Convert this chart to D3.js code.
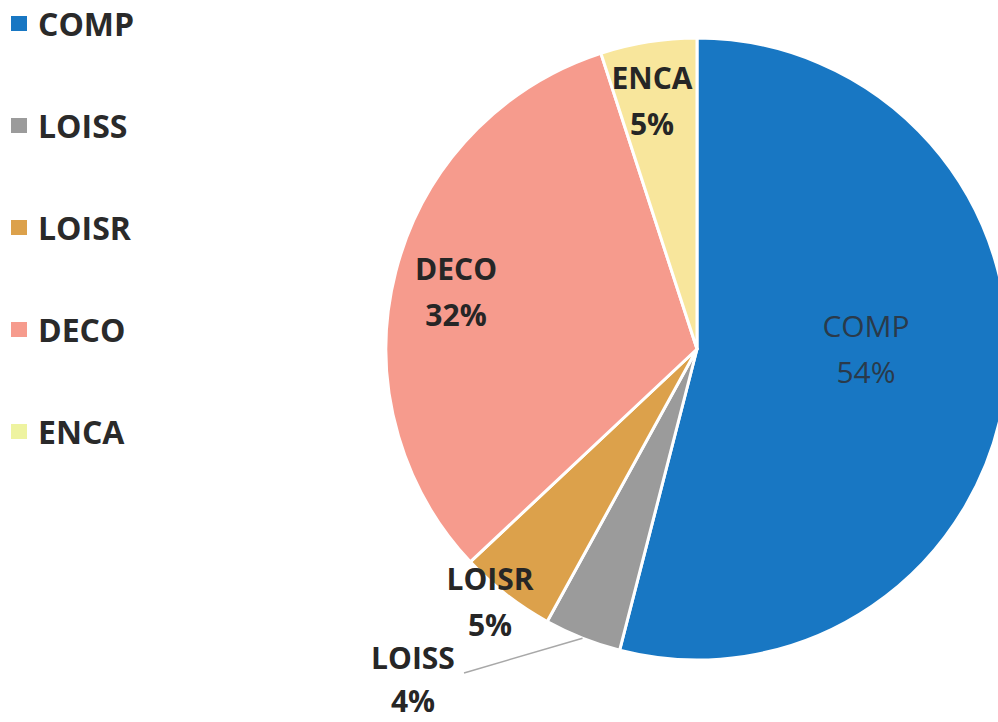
<!DOCTYPE html>
<html><head><meta charset="utf-8">
<script src="https://cdn.jsdelivr.net/npm/d3@7"></script>
<style>body{margin:0;background:#fff}svg{display:block}</style>
</head><body>
<svg id="c" width="998" height="722"></svg>
<script>
const categories = ["COMP","LOISS","LOISR","DECO","ENCA"];
const values = [54, 4, 5, 32, 5];
const colors = ["#1877c3","#9b9b9b","#dca14b","#f69b8d","#f8e69c"];
const legendColors = ["#1877c3","#9b9b9b","#dca14b","#f69b8d","#eef3a0"];

const svg = d3.select("#c");
const cx = 697, cy = 349, R = 311;
const font = "'Open Sans', Lato, sans-serif";

const pie = d3.pie().sort(null).value(d => d)(values);
const arc = d3.arc().innerRadius(0).outerRadius(R);
const g = svg.append("g").attr("transform", `translate(${cx},${cy})`);
g.selectAll("path").data(pie).join("path")
  .attr("d", arc)
  .attr("fill", (d,i) => colors[i])
  .attr("stroke", "#fff").attr("stroke-width", 3).attr("stroke-linejoin","round");

// label positions relative to center (placement offsets)
const labelPos = [[169, 0], [-284, 332], [-207, 253], [-241, -57], [-45, -248]];
const labelGap = [46, 43, 46, 46, 46];
const labelWeight = [400, 700, 700, 700, 700];
const labelColor = ["#2a3a4a", "#262626", "#262626", "#262626", "#262626"];

// leader line for LOISS
const loiss = pie[1];
const mid = (loiss.startAngle + loiss.endAngle) / 2;
const p0 = [R * Math.sin(mid), -R * Math.cos(mid)];
g.append("path")
  .attr("d", d3.line()([p0, [-233, 324]]))
  .attr("stroke", "#a8a8a8").attr("stroke-width", 1.5).attr("fill", "none");

pie.forEach((d, i) => {
  const t = g.append("text")
    .attr("transform", `translate(${labelPos[i][0]},${labelPos[i][1]})`)
    .attr("text-anchor", "middle")
    .attr("font-family", font).attr("font-size", 30)
    .attr("font-weight", labelWeight[i]).attr("fill", labelColor[i]);
  t.append("tspan").attr("x", 0).attr("dy", -12).text(categories[i]);
  t.append("tspan").attr("x", 0).attr("dy", labelGap[i]).text(Math.round(d.value) + "%");
});

// legend
const ly = d3.scalePoint().domain(categories).range([24, 432]);
const lg = svg.append("g");
categories.forEach((c, i) => {
  lg.append("rect").attr("x", 11).attr("y", ly(c) - 8).attr("width", 16).attr("height", 15)
    .attr("fill", legendColors[i]);
  lg.append("text").attr("x", 38).attr("y", ly(c) + 12)
    .attr("font-family", font).attr("font-size", 32).attr("font-weight", 700)
    .attr("fill", "#2a2a2a").text(c);
});
</script>
</body></html>
